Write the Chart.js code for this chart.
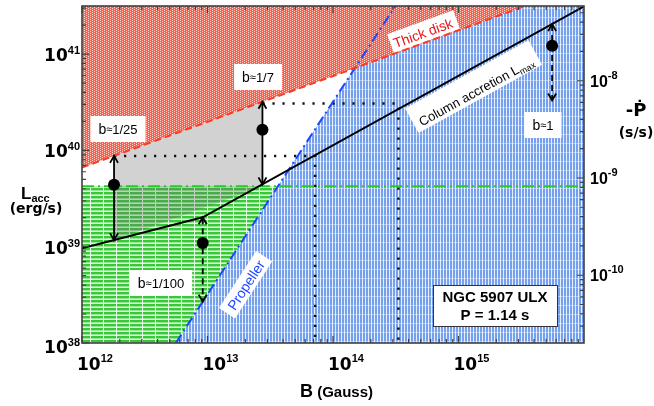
<!DOCTYPE html>
<html>
<head>
<meta charset="utf-8">
<script src="https://cdn.jsdelivr.net/npm/chart.js@4/dist/chart.umd.min.js"></script>
<style>
  html, body { margin: 0; padding: 0; background: #fff; }
  canvas { display: block; }
</style>
</head>
<body>
<canvas id="c" width="654" height="406" style="width:654px;height:406px"></canvas>
<script>
// ---- axis ranges and labelled decades ----
const bRange = [1e12, 1e16];            // B (Gauss)
const lRange = [1e38, 3.16e41];         // L_acc (erg/s)
const pdotRange = [2.01e-11, 5.87e-8];  // -Pdot (s/s)
const bTicks = [1e12, 1e13, 1e14, 1e15];
const lTicks = [1e38, 1e39, 1e40, 1e41];
const pdotTicks = [1e-10, 1e-9, 1e-8];

// ---- boundary lines ----
const thickDiskB = [1e12, 3.4e15];
const thickDiskL = [6.64e39, 3.16e41];
const propellerB = [5.59e12, 3.14e14];
const propellerL = [1e38, 3.16e41];
const columnB = [1e12, 9.16e12, 1e16];
const columnL = [9.64e38, 2.02e39, 3.13e41];
const pdotLevelB = [1e12, 1e16];
const pdotLevelL = [4.24e39, 4.24e39];

// ---- shaded regions ----
const greenB = [1e12, 3.64e13, 5.59e12, 1e12];
const greenL = [4.24e39, 4.24e39, 1e38, 1e38];
const grayB = [1.8e12, 2.74e13, 2.74e13, 2.22e13, 1.8e12];
const grayL = [8.77e39, 3.2e40, 4.44e39, 3.81e39, 1.17e39];

// ---- dotted guides ----
const guide1B = [1.8e12, 7.2e13, 7.2e13];
const guide1L = [8.77e39, 8.77e39, 1e38];
const guide2B = [2.74e13, 3.32e14, 3.32e14];
const guide2L = [3.07e40, 3.07e40, 1e38];

// ---- estimates with allowed ranges ----
const estB = [1.8e12, 9.16e12, 2.74e13, 5.57e15];
const estL = [4.4e39, 1.09e39, 1.64e40, 1.22e41];
const rangeHi = [8.77e39, 2.02e39, 3.2e40, 2.05e41];
const rangeLo = [1.17e39, 2.69e38, 4.44e39, 3.3e40];
const rangeDashed = [false, true, false, true];
const bFactors = ['1/25', '1/100', '1/7', '1'];

// label placement (pixels)
const bLabelPos = [[118, 129], [161, 283], [258, 77], [543, 125]];

const FONT = 'Liberation Sans, Arial, sans-serif';
const WIDE = 'DejaVu Sans, sans-serif';

const canvas = document.getElementById('c');
const ctx0 = canvas.getContext('2d');

function makePattern(w, h, paint) {
  const c = document.createElement('canvas');
  c.width = w; c.height = h;
  paint(c.getContext('2d'));
  return ctx0.createPattern(c, 'repeat');
}
const redPat = makePattern(4, 4, g => {
  g.fillStyle = 'rgb(240,98,84)'; g.fillRect(0, 0, 4, 4);
  g.fillStyle = 'rgb(255,214,204)';
  [[0, 0], [2, 1], [0, 2], [2, 3]].forEach(([x, y]) => g.fillRect(x, y, 1, 1));
});
const bluePat = makePattern(3, 9, g => {
  g.fillStyle = 'rgb(230,238,253)'; g.fillRect(0, 0, 3, 9);
  g.fillStyle = 'rgb(116,160,238)'; g.fillRect(0, 0, 2, 8);
  g.fillStyle = 'rgb(172,200,246)'; g.fillRect(0, 8, 2, 1);
});
const greenPat = makePattern(13, 4, g => {
  g.fillStyle = 'rgb(228,247,228)'; g.fillRect(0, 0, 13, 4);
  g.fillStyle = 'rgb(56,200,56)'; g.fillRect(0, 0, 12, 2);
  g.fillStyle = 'rgb(150,228,150)'; g.fillRect(0, 2, 12, 1);
});

const xy = (bs, ls) => bs.map((b, i) => ({ x: b, y: ls[i] }));
const P = (chart, b, l, yId = 'y') =>
  [chart.scales.x.getPixelForValue(b), chart.scales[yId].getPixelForValue(l)];

function poly(ctx, chart, bs, ls, fill) {
  ctx.beginPath();
  bs.forEach((b, i) => {
    const [x, y] = P(chart, b, ls[i]);
    if (i) ctx.lineTo(x, y); else ctx.moveTo(x, y);
  });
  ctx.closePath();
  ctx.fillStyle = fill;
  ctx.fill();
}

function partsWidth(ctx, parts) {
  return parts.reduce((w, p) => { ctx.font = p.f; return w + ctx.measureText(p.t).width; }, 0);
}
function drawParts(ctx, parts, x, y, color) {
  ctx.textAlign = 'left';
  ctx.textBaseline = 'alphabetic';
  ctx.fillStyle = color;
  parts.forEach(p => {
    ctx.font = p.f;
    ctx.fillText(p.t, x, y + (p.dy || 0));
    x += ctx.measureText(p.t).width;
  });
}
// white box with text, centred at (cx,cy), rotated by angle
function boxLabel(ctx, cx, cy, angle, parts, color, pad) {
  ctx.save();
  ctx.translate(cx, cy);
  ctx.rotate(angle);
  const w = partsWidth(ctx, parts);
  ctx.fillStyle = '#fff';
  ctx.fillRect(-w / 2 - pad.l, -pad.t, w + pad.l + pad.r, pad.t + pad.b);
  drawParts(ctx, parts, -w / 2, pad.base, color);
  ctx.restore();
}
function lineAngle(chart, bs, ls, i0, i1) {
  const [x0, y0] = P(chart, bs[i0], ls[i0]);
  const [x1, y1] = P(chart, bs[i1], ls[i1]);
  return Math.atan2(y1 - y0, x1 - x0);
}

// shaded regions and in-plot labels, under the curves
const regionsPlugin = {
  id: 'regions',
  beforeDatasetsDraw(chart) {
    const ctx = chart.ctx, a = chart.chartArea;
    ctx.save();
    ctx.beginPath(); ctx.rect(a.left, a.top, a.right - a.left, a.bottom - a.top); ctx.clip();
    poly(ctx, chart, [propellerB[0], propellerB[1], bRange[1], bRange[1]],
         [propellerL[0], propellerL[1], lRange[1], lRange[0]], bluePat);
    poly(ctx, chart, greenB, greenL, greenPat);
    poly(ctx, chart, [thickDiskB[0], thickDiskB[1], bRange[0]],
         [thickDiskL[0], thickDiskL[1], lRange[1]], redPat);
    poly(ctx, chart, grayB, grayL, 'rgba(105,105,105,0.3)');

    // labels on the boundary lines
    boxLabel(ctx, 423, 33, lineAngle(chart, thickDiskB, thickDiskL, 0, 1),
      [{ t: 'Thick disk', f: '14px ' + FONT }], '#e8161a', { l: 3, r: 5, t: 11, b: 9, base: 5 });
    boxLabel(ctx, 476, 91, lineAngle(chart, columnB, columnL, 1, 2),
      [{ t: 'Column accretion L', f: '13px ' + FONT }, { t: 'max', f: '9px ' + FONT, dy: 3 }],
      '#000', { l: 6, r: 6, t: 19, b: 9, base: 5 });
    boxLabel(ctx, 246, 285, lineAngle(chart, propellerB, propellerL, 0, 1),
      [{ t: 'Propeller', f: '14px ' + FONT }], '#1f45ff', { l: 6, r: 6, t: 10, b: 9, base: 5 });

    bFactors.forEach((fct, i) => {
      const [cx, cy] = bLabelPos[i];
      boxLabel(ctx, cx, cy, 0,
        [{ t: 'b', f: '14px ' + FONT }, { t: '≈', f: '11px ' + FONT, dy: -1 }, { t: fct, f: '13px ' + FONT }],
        '#000', { l: 8, r: 8, t: 13, b: 13, base: 5 });
    });
    ctx.restore();
  }
};

function arrowHead(ctx, x, y, dir) {
  const len = 7, half = 4;
  ctx.beginPath();
  ctx.moveTo(x - half, y + dir * len);
  ctx.lineTo(x, y);
  ctx.lineTo(x + half, y + dir * len);
  ctx.stroke();
}

function pow10(ctx, x, y, exp, baseFont, expFont, expDy, align) {
  ctx.textBaseline = 'alphabetic';
  ctx.fillStyle = '#000';
  ctx.font = baseFont; const w1 = ctx.measureText('10').width;
  ctx.font = expFont; const w2 = ctx.measureText(exp).width;
  const x0 = align === 'right' ? x - w1 - w2 : x;
  ctx.textAlign = 'left';
  ctx.font = baseFont; ctx.fillText('10', x0, y);
  ctx.font = expFont; ctx.fillText(exp, x0 + w1, y + expDy);
}

// arrows, frame, ticks and axis titles
const overlayPlugin = {
  id: 'overlay',
  afterDatasetsDraw(chart) {
    const ctx = chart.ctx, a = chart.chartArea;
    const sx = chart.scales.x, sy = chart.scales.y, sy2 = chart.scales.y2;
    ctx.save();

    // allowed-range arrows
    ctx.strokeStyle = '#000';
    ctx.lineWidth = 1.8;
    estB.forEach((b, i) => {
      const [x, yTop] = P(chart, b, rangeHi[i]);
      const yBot = sy.getPixelForValue(rangeLo[i]);
      ctx.setLineDash(rangeDashed[i] ? [6, 4] : []);
      ctx.beginPath(); ctx.moveTo(x, yTop + 1); ctx.lineTo(x, yBot - 1); ctx.stroke();
      ctx.setLineDash([]);
      arrowHead(ctx, x, yTop, 1);
      arrowHead(ctx, x, yBot, -1);
    });

    // frame
    ctx.strokeStyle = '#404040';
    ctx.lineWidth = 1.6;
    ctx.strokeRect(a.left, a.top, a.right - a.left, a.bottom - a.top);

    // ticks (inside)
    ctx.lineWidth = 1.2;
    ctx.beginPath();
    for (let d = 12; d < 16; d++) {
      for (let m = 1; m <= 9; m++) {
        const v = m * Math.pow(10, d);
        if (v > bRange[1]) continue;
        const x = sx.getPixelForValue(v), len = m === 1 ? 7 : 4;
        ctx.moveTo(x, a.bottom); ctx.lineTo(x, a.bottom - len);
        ctx.moveTo(x, a.top); ctx.lineTo(x, a.top + len);
      }
    }
    for (let d = 38; d <= 41; d++) {
      for (let m = 1; m <= 9; m++) {
        const v = m * Math.pow(10, d);
        if (v > lRange[1]) continue;
        const y = sy.getPixelForValue(v), len = m === 1 ? 7 : 4;
        ctx.moveTo(a.left, y); ctx.lineTo(a.left + len, y);
      }
    }
    for (let d = -11; d <= -8; d++) {
      for (let m = 1; m <= 9; m++) {
        const v = m * Math.pow(10, d);
        if (v < pdotRange[0] || v > pdotRange[1]) continue;
        const y = sy2.getPixelForValue(v), len = m === 1 ? 7 : 4;
        ctx.moveTo(a.right, y); ctx.lineTo(a.right - len, y);
      }
    }
    ctx.stroke();

    // tick labels
    lTicks.forEach(v => {
      const y = sy.getPixelForValue(v) + (v === lRange[0] ? 3 : 0);
      pow10(ctx, 80, y + 7, String(Math.round(Math.log10(v))), 'bold 17px ' + WIDE, 'bold 11px ' + FONT, -7, 'right');
    });
    bTicks.forEach(v => {
      const x = sx.getPixelForValue(v);
      pow10(ctx, x - 5, 370, String(Math.round(Math.log10(v))), 'bold 17px ' + WIDE, 'bold 11px ' + FONT, -8, 'left');
    });
    pdotTicks.forEach(v => {
      const y = sy2.getPixelForValue(v);
      pow10(ctx, 590, y + 6, String(Math.round(Math.log10(v))), 'bold 16px ' + FONT, 'bold 11px ' + FONT, -8, 'left');
    });

    // axis titles
    ctx.fillStyle = '#000';
    drawParts(ctx, [{ t: 'L', f: 'bold 17px ' + FONT }, { t: 'acc', f: 'bold 11px ' + FONT, dy: 3 }], 21, 199, '#000');
    ctx.textAlign = 'center';
    ctx.font = 'bold 14px ' + WIDE;
    ctx.fillText('(erg/s)', 36, 213);
    ctx.font = 'bold 18px ' + WIDE;
    ctx.fillText('-Ṗ', 636, 116);
    ctx.font = 'bold 14px ' + WIDE;
    ctx.fillText('(s/s)', 636, 137);
    drawParts(ctx, [{ t: 'B', f: 'bold 18px ' + FONT }, { t: ' (Gauss)', f: 'bold 15px ' + FONT }], 300, 397, '#000');

    // source box
    ctx.fillStyle = '#fff';
    ctx.fillRect(433, 285, 124, 41);
    ctx.strokeStyle = '#333';
    ctx.lineWidth = 1;
    ctx.strokeRect(433.5, 285.5, 124, 41);
    ctx.fillStyle = '#000';
    ctx.textAlign = 'center';
    ctx.font = 'bold 15px ' + FONT;
    ctx.fillText('NGC 5907 ULX', 495, 302);
    ctx.fillText('P = 1.14 s', 495, 320);
    ctx.restore();
  }
};

const lineDs = (label, bs, ls, color, width, dash) => ({
  label, data: xy(bs, ls), showLine: true, borderColor: color, borderWidth: width,
  borderDash: dash, borderCapStyle: 'butt', pointRadius: 0, pointHoverRadius: 0,
  fill: false, tension: 0
});

new Chart(canvas, {
  type: 'scatter',
  data: {
    datasets: [
      { label: 'estimates', data: xy(estB, estL), pointRadius: 6, pointHoverRadius: 6,
        pointBackgroundColor: '#000', pointBorderColor: '#000', pointBorderWidth: 0, showLine: false },
      lineDs('column accretion', columnB, columnL, '#000', 2, []),
      lineDs('thick disk', thickDiskB, thickDiskL, '#ff3a22', 2, [7, 4]),
      lineDs('propeller', propellerB, propellerL, '#1f45ff', 2, [10, 4, 2, 4]),
      lineDs('observed Pdot', pdotLevelB, pdotLevelL, '#26cc26', 2, [12, 4, 2, 4]),
      lineDs('guide 1', guide1B, guide1L, '#111', 2.5, [2.2, 7.8]),
      lineDs('guide 2', guide2B, guide2L, '#111', 2.5, [2.2, 7.8])
    ]
  },
  options: {
    responsive: false,
    animation: false,
    events: [],
    layout: { padding: { left: 82, right: 70, top: 4, bottom: 63 } },
    plugins: { legend: { display: false }, tooltip: { enabled: false } },
    scales: {
      x: { type: 'logarithmic', min: bRange[0], max: bRange[1], display: false },
      y: { type: 'logarithmic', min: lRange[0], max: lRange[1], display: false },
      y2: { type: 'logarithmic', position: 'right', min: pdotRange[0], max: pdotRange[1], display: false }
    }
  },
  plugins: [regionsPlugin, overlayPlugin]
});
</script>
</body>
</html>
